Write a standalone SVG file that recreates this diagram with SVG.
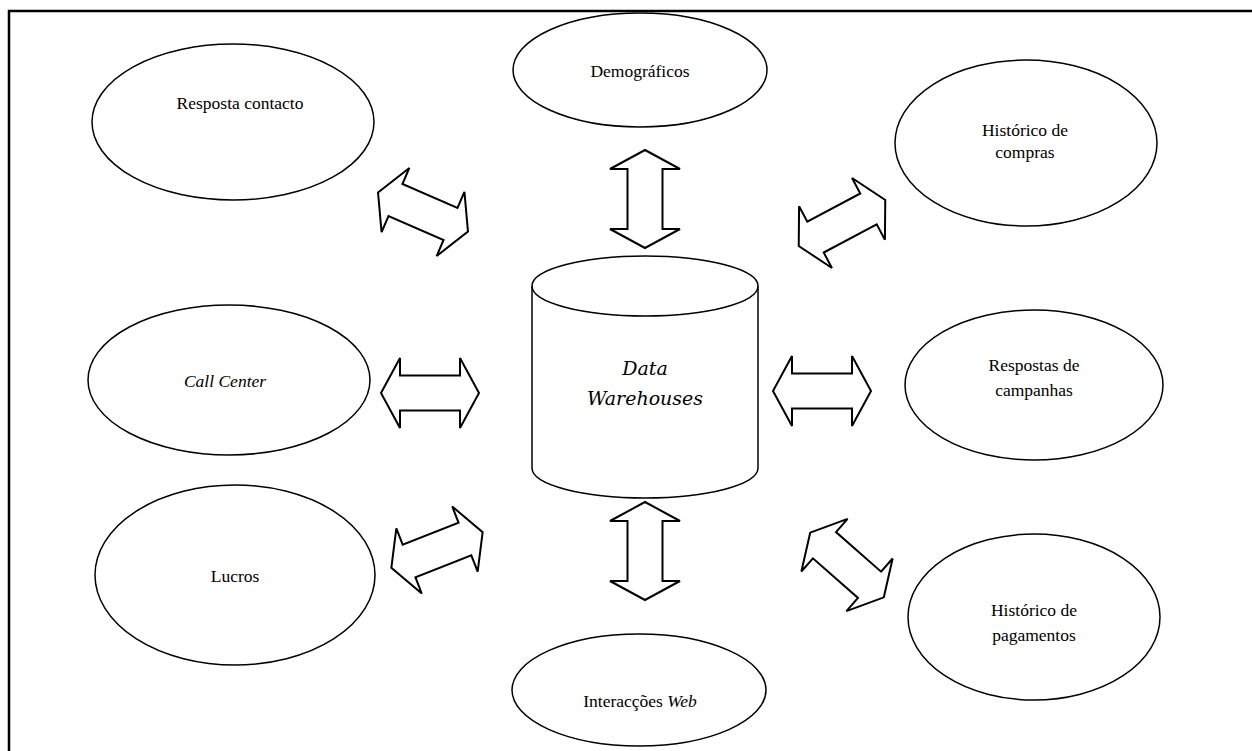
<svg xmlns="http://www.w3.org/2000/svg" xmlns:xlink="http://www.w3.org/1999/xlink" width="1252" height="751" viewBox="0 0 1252 751">
<style>
.n{fill:#fff;stroke:#000;stroke-width:1.5}
.a{fill:#fff;stroke:#000;stroke-width:2;stroke-linejoin:miter}
.t{font-family:"Liberation Serif","Times New Roman",serif;font-size:17.5px;fill:#000;text-anchor:middle}
.i{font-style:italic}
.dw{font-family:"DejaVu Serif","Liberation Serif",serif;font-style:italic;font-size:19px;fill:#000;text-anchor:middle}
</style>
<defs>
<polygon id="dbl" points="-49,0 -30,-35 -30,-17.5 30,-17.5 30,-35 49,0 30,35 30,17.5 -30,17.5 -30,35"/>
</defs>
<rect width="1252" height="751" fill="#fff"/>
<path d="M9,751 V11 H1252" fill="none" stroke="#000" stroke-width="2.5"/>
<g id="connectors">
<use xlink:href="#dbl" class="a" transform="translate(645,199) rotate(90)"/>
<use xlink:href="#dbl" class="a" transform="translate(645,551) rotate(90)"/>
<use xlink:href="#dbl" class="a" transform="translate(430,393)"/>
<use xlink:href="#dbl" class="a" transform="translate(822,391)"/>
<use xlink:href="#dbl" class="a" transform="translate(423,212) rotate(23.4)"/>
<use xlink:href="#dbl" class="a" transform="translate(842,223) rotate(-28)"/>
<use xlink:href="#dbl" class="a" transform="translate(437,550) rotate(-21.3)"/>
<use xlink:href="#dbl" class="a" transform="translate(847,565) rotate(41.3)"/>
</g>
<g id="dw">
<path class="n" d="M532,286 V468 A113,30 0 0 0 758,468 V286"/>
<ellipse class="n" cx="645" cy="286" rx="113" ry="30"/>
<text class="dw" x="645" y="375">Data</text>
<text class="dw" x="645" y="405">Warehouses</text>
</g>
<g id="demograficos">
<ellipse class="n" cx="640" cy="70" rx="127" ry="57"/>
<text class="t" x="640" y="77">Demográficos</text>
</g>
<g id="resposta-contacto">
<ellipse class="n" cx="233" cy="122" rx="141" ry="78"/>
<text class="t" x="240" y="109">Resposta contacto</text>
</g>
<g id="historico-compras">
<ellipse class="n" cx="1026" cy="143" rx="131" ry="83"/>
<text class="t" x="1025" y="136">Histórico de</text>
<text class="t" x="1025" y="158">compras</text>
</g>
<g id="call-center">
<ellipse class="n" cx="229" cy="380" rx="141" ry="75"/>
<text class="t i" x="225" y="387">Call Center</text>
</g>
<g id="respostas-campanhas">
<ellipse class="n" cx="1034" cy="385" rx="129" ry="75"/>
<text class="t" x="1034" y="371">Respostas de</text>
<text class="t" x="1034" y="396">campanhas</text>
</g>
<g id="lucros">
<ellipse class="n" cx="235" cy="575" rx="140" ry="90"/>
<text class="t" x="235" y="582">Lucros</text>
</g>
<g id="interaccoes-web">
<ellipse class="n" cx="639" cy="690" rx="127" ry="56"/>
<text class="t" x="640" y="707">Interacções <tspan class="i">Web</tspan></text>
</g>
<g id="historico-pagamentos">
<ellipse class="n" cx="1034" cy="617" rx="126" ry="83"/>
<text class="t" x="1034" y="616">Histórico de</text>
<text class="t" x="1034" y="641">pagamentos</text>
</g>
</svg>
